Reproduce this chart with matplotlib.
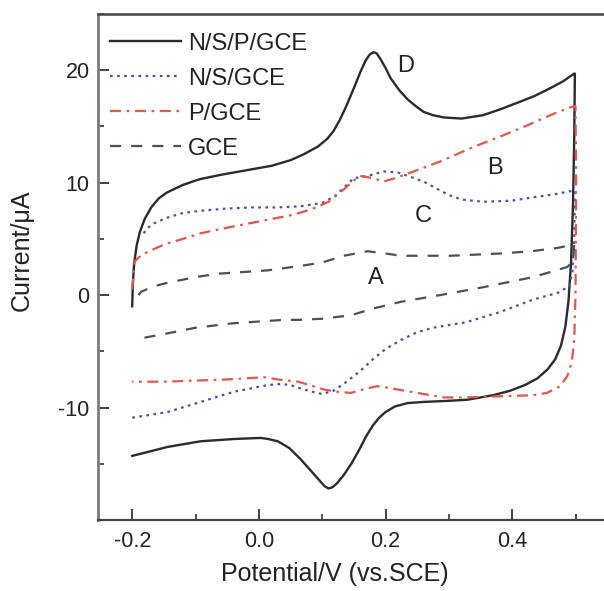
import matplotlib
matplotlib.use("Agg")
import matplotlib.pyplot as plt
from matplotlib.ticker import MultipleLocator

plt.rcParams['font.family'] = ['Liberation Sans', 'DejaVu Sans']
plt.rcParams['axes.unicode_minus'] = False

# ---- data (potential V, current uA), forward then reverse scan ----
nsp_x = [-0.200, -0.199, -0.197, -0.193, -0.188, -0.180, -0.170, -0.158, -0.146, -0.120,
         -0.094, -0.060, -0.020, 0.020, 0.050, 0.070, 0.093, 0.108, 0.118, 0.128, 0.138,
         0.150, 0.160, 0.168, 0.175, 0.181, 0.186, 0.192, 0.200, 0.208, 0.222, 0.235,
         0.248, 0.260, 0.275, 0.292, 0.320, 0.354, 0.380, 0.408, 0.435, 0.460, 0.480,
         0.498,
         0.499, 0.498, 0.496, 0.493, 0.489, 0.484, 0.477, 0.468, 0.456, 0.440, 0.420,
         0.397, 0.370, 0.330, 0.300, 0.260, 0.235, 0.215, 0.200, 0.190, 0.180, 0.170,
         0.158, 0.146, 0.134, 0.124, 0.116, 0.110, 0.104, 0.096, 0.085, 0.066, 0.048,
         0.030, 0.015, 0.003, -0.040, -0.092, -0.144, -0.200]
nsp_y = [-1.0, 1.0, 2.8, 4.4, 5.6, 6.8, 7.8, 8.6, 9.1, 9.8,
         10.3, 10.7, 11.1, 11.5, 12.0, 12.5, 13.2, 13.9, 14.6, 15.6, 16.8,
         18.4, 19.8, 20.8, 21.4, 21.6, 21.5, 21.0, 20.2, 19.3, 18.2, 17.4,
         16.8, 16.3, 16.0, 15.8, 15.7, 16.0, 16.5, 17.1, 17.7, 18.4, 19.0,
         19.7,
         19.7, 14.0, 8.0, 3.0, -0.5, -2.8, -4.5, -5.7, -6.6, -7.4, -8.0,
         -8.5, -8.9, -9.3, -9.4, -9.5, -9.6, -9.9, -10.4, -10.9, -11.6, -12.5,
         -13.8, -15.0, -16.0, -16.7, -17.1, -17.2, -17.0, -16.5, -15.8, -14.6, -13.6,
         -13.0, -12.8, -12.7, -12.8, -13.0, -13.5, -14.3]

ns_x = [-0.182, -0.175, -0.165, -0.144, -0.120, -0.092, -0.050, -0.013, 0.030, 0.066,
        0.100, 0.120, 0.135, 0.150, 0.172, 0.197, 0.220, 0.240, 0.260, 0.283, 0.300,
        0.320, 0.354, 0.400, 0.433, 0.470, 0.497,
        0.499, 0.498, 0.495, 0.490, 0.472, 0.433, 0.381, 0.328, 0.275, 0.250, 0.224,
        0.200, 0.182, 0.165, 0.150, 0.134, 0.118, 0.100, 0.085, 0.066, 0.050, 0.035,
        0.014, -0.040, -0.092, -0.144, -0.200]
ns_y = [5.5, 6.0, 6.4, 6.9, 7.3, 7.5, 7.7, 7.8, 7.8, 7.9,
        8.2, 8.8, 9.6, 10.4, 10.6, 11.0, 10.9, 10.5, 10.1, 9.4, 8.9,
        8.5, 8.3, 8.4, 8.7, 9.0, 9.3,
        9.3, 5.0, 2.0, 0.8, 0.2, -0.4, -1.5, -2.4, -2.9, -3.3, -4.0,
        -4.8, -5.6, -6.5, -7.2, -7.9, -8.5, -8.8, -8.6, -8.3, -8.0, -7.9,
        -8.0, -8.6, -9.5, -10.4, -10.9]

p_x = [-0.200, -0.196, -0.185, -0.177, -0.150, -0.120, -0.092, -0.050, 0.014, 0.050,
       0.082, 0.110, 0.134, 0.150, 0.160, 0.180, 0.197, 0.215, 0.240, 0.287, 0.303,
       0.340, 0.381, 0.420, 0.460, 0.487, 0.498,
       0.500, 0.501, 0.500, 0.498, 0.494, 0.487, 0.476, 0.455, 0.433, 0.380, 0.328,
       0.292, 0.240, 0.200, 0.187, 0.170, 0.158, 0.145, 0.125, 0.103, 0.080, 0.062,
       0.030, 0.008, -0.050, -0.100, -0.150, -0.200]
p_y = [0.5, 3.0, 3.6, 3.8, 4.5, 5.0, 5.5, 6.0, 6.7, 7.1,
       7.6, 8.3, 9.4, 10.2, 10.6, 10.4, 10.1, 10.4, 10.9, 11.9, 12.3,
       13.2, 14.1, 15.0, 16.0, 16.6, 16.8,
       16.8, 10.0, 0.0, -4.0, -6.0, -7.2, -8.1, -8.7, -8.9, -9.0, -9.1,
       -9.1, -8.6, -8.2, -8.1, -8.3, -8.5, -8.7, -8.6, -8.4, -8.0, -7.7,
       -7.5, -7.3, -7.5, -7.6, -7.7, -7.7]

gce_x = [-0.190, -0.186, -0.165, -0.144, -0.100, -0.065, 0.014, 0.066, 0.100, 0.134,
         0.172, 0.200, 0.224, 0.303, 0.381, 0.430, 0.472, 0.497,
         0.498, 0.496, 0.487, 0.433, 0.354, 0.286, 0.224, 0.180, 0.145, 0.100, 0.066,
         0.040, -0.040, -0.100, -0.144, -0.182]
gce_y = [0.0, 0.3, 0.8, 1.1, 1.6, 1.9, 2.2, 2.6, 2.9, 3.5,
         3.9, 3.7, 3.5, 3.5, 3.7, 3.9, 4.2, 4.5,
         4.5, 3.0, 2.5, 1.6, 0.7, 0.0, -0.6, -1.2, -1.8, -2.1, -2.2,
         -2.2, -2.5, -2.9, -3.4, -3.8]

labels = ["N/S/P/GCE", "N/S/GCE", "P/GCE", "GCE"]
peak_labels = ["D", "B", "C", "A"]
peak_x = [0.232, 0.373, 0.259, 0.184]
peak_y = [20.4, 11.3, 7.0, 1.5]
xticks = [-0.2, 0.0, 0.2, 0.4]
yticks = [-10, 0, 10, 20]

fig = plt.figure(figsize=(6.04, 5.91), dpi=100)
ax = fig.add_axes([98/604, 71/591, 506/604, 506/591])

ax.plot(nsp_x, nsp_y, color='#2b2b2b', lw=1.7, ls='-', label=labels[0])
ax.plot(ns_x, ns_y, color='#4b4fa8', lw=1.6, ls=(0, (1.2, 2.0)), label=labels[1])
ax.plot(p_x, p_y, color='#e0574c', lw=1.6, ls=(0, (5, 2.5, 1.2, 2.5)), label=labels[2])
ax.plot(gce_x, gce_y, color='#4a4f5e', lw=1.6, ls=(0, (5, 4.5)), label=labels[3])

for t, x, y in zip(peak_labels, peak_x, peak_y):
    ax.text(x, y, t, fontsize=17, ha='center', va='center', color='#222222')

ax.set_xlim(-0.254, 0.545)
ax.set_ylim(-20, 25)
ax.set_xticks(xticks)
ax.set_xticklabels(["-0.2", "0.0", "0.2", "0.4"])
ax.set_yticks(yticks)
ax.xaxis.set_minor_locator(MultipleLocator(0.1))
ax.yaxis.set_minor_locator(MultipleLocator(5))
ax.tick_params(which='major', direction='in', length=8, width=1.3, labelsize=15.5,
               color='#333333', labelcolor='#222222')
ax.tick_params(axis='x', which='major', pad=8)
ax.tick_params(axis='y', which='major', pad=6)
ax.tick_params(which='minor', direction='in', length=4, width=1.2, color='#333333')

ax.spines['right'].set_visible(False)
ax.spines['top'].set_color('#444444')
ax.spines['top'].set_linewidth(1.8)
ax.spines['left'].set_color('#7a7a7a')
ax.spines['left'].set_linewidth(2.0)
ax.spines['bottom'].set_color('#444444')
ax.spines['bottom'].set_linewidth(1.6)

ax.set_xlabel("Potential/V (vs.SCE)", fontsize=18, color='#222222')
ax.set_ylabel("Current/\u03bcA", fontsize=18, color='#222222')
ax.xaxis.set_label_coords(0.468, -0.083)
ax.yaxis.set_label_coords(-0.126, 0.534)

leg = ax.legend(loc='upper left', bbox_to_anchor=(0.0237, 0.963), frameon=False,
                fontsize=17, handlelength=3.0, handletextpad=0.3, borderpad=0,
                borderaxespad=0, labelspacing=0.55)
for txt in leg.get_texts():
    txt.set_color('#222222')

fig.savefig("out.png", dpi=100)
